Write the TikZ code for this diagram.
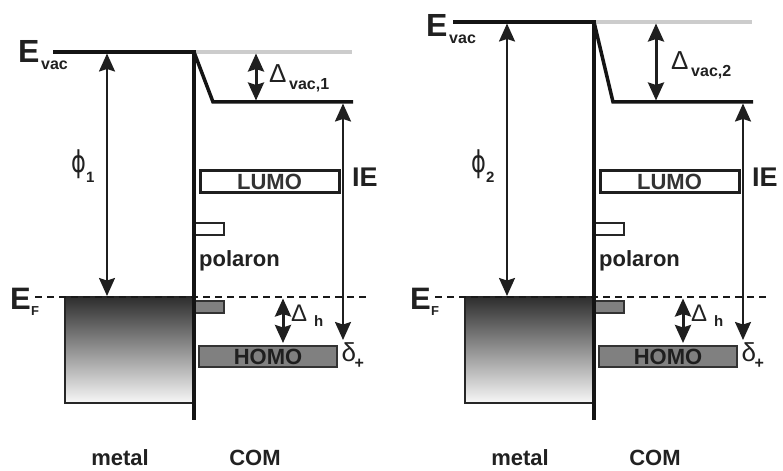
\documentclass[tikz,border=0pt]{standalone}
\usepackage{fontspec}
\setmainfont{Liberation Sans}
\newfontfamily\dvs{DejaVu Sans}
\usepackage{graphicx}
\usetikzlibrary{arrows.meta}
\newcommand\fs[1]{\fontsize{#1bp}{#1bp}\selectfont}
\tikzset{
  txt/.style={inner sep=0pt, text=black!87},
  lvl/.style={line width=3.5bp, draw=black!92},
  ghost/.style={line width=3.5bp, draw=black!20},
  arrthick/.style={line width=3bp, draw=black!88, arrows={Stealth[length=18bp,width=16bp,inset=2.5bp]-Stealth[length=18bp,width=16bp,inset=2.5bp]}},
  arrthin/.style={line width=2bp, draw=black!88, arrows={Stealth[length=18bp,width=16bp,inset=2.5bp]-Stealth[length=18bp,width=16bp,inset=2.5bp]}},
  fermi/.style={line width=1.5bp, draw=black!90, dash pattern=on 7bp off 5bp},
  lumobox/.style={draw=black!88, line width=3bp, fill=white, minimum width=139bp, minimum height=22bp, inner sep=0pt, font=\bfseries\fs{22}, text=black!80},
  homobox/.style={draw=black!80, line width=2bp, fill=black!50, minimum width=138bp, minimum height=21bp, inner sep=0pt, font=\bfseries\fs{22}, text=black!88},
  polw/.style={draw=black!85, line width=1.5bp, fill=white, minimum width=29bp, minimum height=12bp, inner sep=0pt},
  polg/.style={polw, fill=black!50, draw=black!80},
  metalbox/.style={draw=black!85, line width=1.5bp, top color=black!82, bottom color=black!3, minimum width=128bp, minimum height=106bp, inner sep=0pt},
}
% #1 X, #2 Evac y, #3 index, #4 E x, #5 E baseline, #6 Delta x, #7 Delta baseline
\newcommand\panel[7]{%
\begin{scope}[xshift=#1bp]
  \coordinate (ev0-#3) at (53,#2);
  \coordinate (evI-#3) at (194,#2);
  \coordinate (gh-#3) at (352,#2);
  \coordinate (ifB-#3) at (194,420);
  \coordinate (kn-#3) at (213,102);
  \coordinate (vr-#3) at (353,102);
  \coordinate (efL-#3) at (35,297);
  \coordinate (efR-#3) at (367,297);
  % metal
  \node[metalbox] (metal-#3) at (129,350) {};
  \draw[fermi] (efL-#3) -- (efR-#3);
  % levels
  \draw[ghost] (evI-#3) -- (gh-#3);
  \node[lumobox] (lumo-#3) at (269.5,182) {LUMO};
  \node[homobox] (homo-#3) at (268,356.5) {HOMO};
  \node[polw] (pu-#3) at (209.5,229) {};
  \node[polg] (pl-#3) at (209.5,307) {};
  \draw[lvl] (ev0-#3) -- (evI-#3) -- (ifB-#3);
  \draw[lvl] (evI-#3) -- (kn-#3) -- (vr-#3);
  % arrows
  \coordinate (phT-#3) at (107,#2+1.5);
  \coordinate (phB-#3) at (107,296);
  \draw[arrthin] (phT-#3) -- (phB-#3);
  \coordinate (dvT-#3) at (256,#2+1.5);
  \coordinate (dvB-#3) at (256,100.5);
  \draw[arrthick] (dvT-#3) -- (dvB-#3);
  \coordinate (ieT-#3) at (343,103.5);
  \coordinate (ieB-#3) at (343,340);
  \draw[arrthin] (ieT-#3) -- (ieB-#3);
  \coordinate (dhT-#3) at (283,298.5);
  \coordinate (dhB-#3) at (283,343);
  \draw[arrthick] (dhT-#3) -- (dhB-#3);
  % labels
  \node[txt, anchor=base west, font=\bfseries\fs{32}] (Ev-#3) at (#4,#5) {E};
  \node[txt, anchor=base west, font=\bfseries\fs{16}] (Evs-#3) at (#4+23,#5+7) {vac};
  \node[txt, anchor=base west, font=\bfseries\fs{31}] (Ef-#3) at (10,310) {E};
  \node[txt, anchor=base west, font=\bfseries\fs{13}] (Efs-#3) at (31,316) {F};
  \node[txt, anchor=base, font=\dvs\fs{30}] (phi-#3) at (78.5,173) {\scalebox{0.75}[1]{ϕ}};
  \node[txt, anchor=base west, font=\bfseries\fs{15}] (phis-#3) at (86,183) {#3};
  \node[txt, anchor=base west, font=\fs{26}] (dv-#3) at (#6,#7) {Δ};
  \node[txt, anchor=base west, font=\bfseries\fs{16}] (dvs-#3) at (#6+20,#7+7) {vac,#3};
  \node[txt, anchor=base west, font=\bfseries\fs{27}] (ie-#3) at (352,187) {IE};
  \node[txt, anchor=base west, font=\bfseries\fs{22}] (pol-#3) at (199,267) {polaron};
  \node[txt, anchor=base west, font=\fs{24}] (dh-#3) at (291,322) {Δ};
  \node[txt, anchor=base west, font=\bfseries\fs{15}] (dhs-#3) at (314,327) {h};
  \node[txt, anchor=base west, font=\fs{26}] (dp-#3) at (341.5,362) {δ};
  \node[txt, anchor=base west, font=\bfseries\fs{16}] (dps-#3) at (354.5,369) {+};
  \node[txt, anchor=base, font=\bfseries\fs{22}] (mt-#3) at (120,465) {metal};
  \node[txt, anchor=base, font=\bfseries\fs{22}] (cm-#3) at (255,465) {COM};
\end{scope}}
\begin{document}
\begin{tikzpicture}[x=1bp,y=-1bp]
\useasboundingbox (0,0) rectangle (783,471);
\fill[white] (0,0) rectangle (783,471);
\panel{0}{52}{1}{18}{63}{269}{83}
\panel{400}{22}{2}{26}{37}{271}{70}
\end{tikzpicture}
\end{document}
